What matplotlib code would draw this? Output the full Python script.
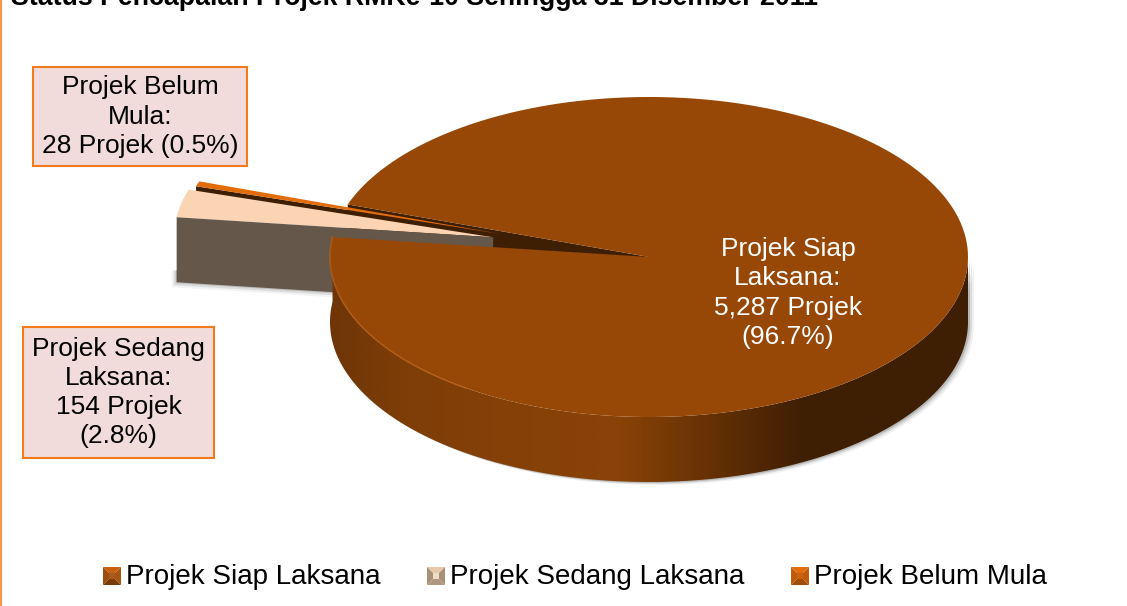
import numpy as np
import matplotlib
matplotlib.use('Agg')
import matplotlib.pyplot as plt
from matplotlib.colors import LinearSegmentedColormap
from matplotlib.patches import Polygon, Rectangle

plt.rcParams['font.family'] = ['Liberation Sans', 'DejaVu Sans']

# data
labels = ['Projek Siap Laksana', 'Projek Sedang Laksana', 'Projek Belum Mula']
projects = [5287, 154, 28]
percents = ['96.7%', '2.8%', '0.5%']
title = 'Status Pencapaian Projek RMKe-10 Sehingga 31 Disember 2011'

W, H = 1127, 606
cx, cy, rx, ry, depth = 649, 257, 319, 160, 65
start_angle = 172.8

top_main = '#974706'
wall_dark = '#3f1f04'
cream = '#fbd4b4'
gray = '#65574a'
orange = '#e36c0a'
box_edge = '#f07a1c'
box_fill = '#f2dcdb'


def ellipse_pts(t1, t2, ox=0, oy=0, n=200):
    t = np.radians(np.linspace(t1, t2, n))
    return np.column_stack([cx + ox + rx * np.cos(t), cy + oy - ry * np.sin(t)])


def slice_poly(t1, t2, ox=0, oy=0):
    return np.vstack([[cx + ox, cy + oy], ellipse_pts(t1, t2, ox, oy)])


fig = plt.figure(figsize=(W / 100, H / 100), dpi=100)
ax = fig.add_axes([0, 0, 1, 1])
ax.set_xlim(0, W)
ax.set_ylim(H, 0)
ax.axis('off')

# slice angles, going round from the left side of the pie
total = sum(projects)
sweeps = [v / total * 360 for v in projects]
main_t1 = start_angle
main_t2 = start_angle + sweeps[0]
mid_t2 = start_angle + 360
mid_t1 = mid_t2 - sweeps[1]
low_t2 = mid_t1
low_t1 = low_t2 - sweeps[2]

# cut face of the big slice, seen through the gap
end = ellipse_pts(main_t2, main_t2, n=1)[0]
ax.add_patch(Polygon([(cx, cy), end, end + (0, depth), (cx, cy + depth)], fc=wall_dark, ec='none', zorder=1))

# small pulled out slices
mid = np.radians((low_t1 + low_t2) / 2)
ox, oy = 0.49 * rx * np.cos(mid), -0.46 * ry * np.sin(mid)
apex = np.array([cx + ox, cy + oy])
corner = ellipse_pts(low_t2, low_t2, ox, oy, n=1)[0]
ax.add_patch(Polygon([apex, corner, corner + (0, 9), apex + (0, 9)], fc=wall_dark, ec='none', zorder=2))
ax.add_patch(Polygon(slice_poly(low_t1, low_t2, ox, oy), fc=orange, ec='none', zorder=3))

mid = np.radians((mid_t1 + mid_t2) / 2)
ox, oy = 0.50 * rx * np.cos(mid), -0.58 * ry * np.sin(mid)
apex = np.array([cx + ox, cy + oy])
corner = ellipse_pts(mid_t2, mid_t2, ox, oy, n=1)[0]
# soft shadow under the grey face
for i, a in zip([5, 3, 1], [0.07, 0.14, 0.25]):
    ax.add_patch(Polygon([corner + (-i, depth - 12), corner + (-i, depth + i), apex + (0, depth + i), apex + (0, depth - 12)],
                         fc='#555555', ec='none', alpha=a, zorder=3.5))
ax.add_patch(Polygon(slice_poly(mid_t1, mid_t2, ox, oy), fc=cream, ec='none', zorder=4))
ax.add_patch(Polygon([apex, corner, corner + (0, depth), apex + (0, depth)], fc=gray, ec='none', zorder=4))

# outer wall of the big slice with a left to right gradient
wall_outline = np.vstack([ellipse_pts(main_t1, 360), ellipse_pts(360, main_t1, 0, depth)])
for i, a in zip([6, 4, 2], [0.08, 0.14, 0.25]):
    ax.add_patch(Polygon(wall_outline + (i, i / 2), fc='#555555', ec='none', alpha=a, zorder=4.5))
wall = Polygon(wall_outline, fc='none', ec='none', zorder=5)
ax.add_patch(wall)
cmap = LinearSegmentedColormap.from_list('wall', [(0, '#6f3507'), (0.12, '#7f3e07'), (0.45, '#8a4307'), (0.58, '#6a3305'), (0.74, wall_dark), (1, wall_dark)])
img = ax.imshow(np.linspace(0, 1, 256)[None, :], extent=[cx - rx, cx + rx, cy + ry + depth, cy - ry], cmap=cmap, aspect='auto', zorder=5)
img.set_clip_path(wall)
ax.set_xlim(0, W)
ax.set_ylim(H, 0)

# top face of the big slice
ax.add_patch(Polygon(slice_poly(main_t1, main_t2), fc=top_main, ec='none', zorder=6))
rim = ellipse_pts(main_t1, 235)
ax.plot(rim[:, 0], rim[:, 1], color='#c0651c', lw=1.2, alpha=0.6, zorder=6.5)

# value labels
ax.text(788, 293, f'Projek Siap\nLaksana:\n{projects[0]:,} Projek\n({percents[0]})', color='white', fontsize=19, ha='center', va='center', linespacing=1.28, zorder=8)


def callout(x0, y0, x1, y1, txt):
    ax.add_patch(Rectangle((x0, y0), x1 - x0, y1 - y0, fc=box_fill, ec=box_edge, lw=1.5, zorder=9))
    ax.text((x0 + x1) / 2, (y0 + y1) / 2, txt, color='black', fontsize=19, ha='center', va='center', linespacing=1.28, zorder=10)


callout(33, 67, 247, 166, f'Projek Belum\nMula:\n{projects[2]} Projek ({percents[2]})')
callout(23, 327, 214, 458, f'Projek Sedang\nLaksana:\n{projects[1]} Projek\n({percents[1]})')

# legend with bevelled swatches
swatches = [('#c8600f', '#9c4c0c', '#7a3a08', '#a85510', '#a85a20'),
            ('#e8c8a8', '#a89078', '#b09880', '#a89078', '#efdcc4'),
            ('#e36c0a', '#c05a08', '#a04e08', '#c05a08', '#c8600f')]
legend_x = [103, 427, 791]
for x, name, cols in zip(legend_x, labels, swatches):
    y, s = 567, 18
    x1, y1 = x + s, y + s
    mx, my = x + s / 2, y + s / 2
    ax.add_patch(Polygon([(x, y), (x1, y), (mx, my)], fc=cols[0], ec='none', zorder=9))
    ax.add_patch(Polygon([(x, y), (x, y1), (mx, my)], fc=cols[1], ec='none', zorder=9))
    ax.add_patch(Polygon([(x, y1), (x1, y1), (mx, my)], fc=cols[2], ec='none', zorder=9))
    ax.add_patch(Polygon([(x1, y), (x1, y1), (mx, my)], fc=cols[3], ec='none', zorder=9))
    ax.add_patch(Rectangle((x + 6, y + 6), s - 12, s - 12, fc=cols[4], ec='none', zorder=9.5))
    ax.text(x + 23, y + s / 2 + 1.5, name, color='black', fontsize=20, ha='left', va='center', zorder=10)

# title is cut by the top edge, left border line of the slide
ax.text(11, 5, title, color='black', fontsize=19.3, fontweight='bold', ha='left', va='baseline', zorder=10)
ax.plot([0.8, 0.8], [0, H], color='#f79646', lw=1.5, zorder=10)

fig.savefig('out.png', dpi=100, facecolor='white')
